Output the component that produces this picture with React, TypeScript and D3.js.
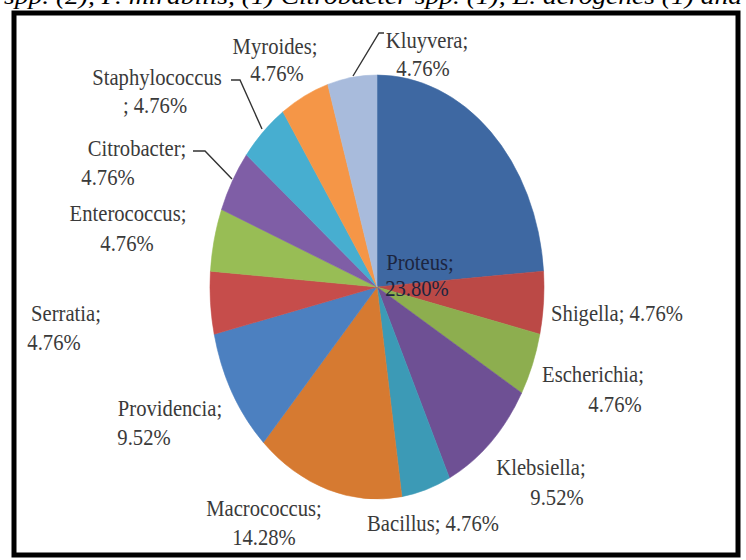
import React from "react";
import * as d3 from "d3";

// Share of isolates per genus (percent), clockwise from 12 o'clock
const categories = [
  "Proteus", "Shigella", "Escherichia", "Klebsiella", "Bacillus", "Macrococcus",
  "Providencia", "Serratia", "Enterococcus", "Citrobacter", "Staphylococcus",
  "Myroides", "Kluyvera",
];
const shares = [23.8, 4.76, 4.76, 9.52, 4.76, 14.28, 9.52, 4.76, 4.76, 4.76, 4.76, 4.76, 4.76];

const sliceColors = [
  "#3e68a2", "#bb4946", "#8dae4f", "#6e5094", "#3c9ab6", "#d67a31",
  "#4c80c0", "#c64d4b", "#98bd55", "#7f5ea6", "#47aed0", "#f59647", "#a8bbdc",
];

const caption = "spp. (2), P. mirabilis, (1) Citrobacter spp. (1), E. aerogenes (1) and";

// Label placement: "two" = name; / value, "one" = name; value, "semi" = name / ; value
type LabelPlace = { mode: "two" | "one" | "semi"; l1: [number, number]; l2?: [number, number]; color?: string };
const labelPlaces: LabelPlace[] = [
  { mode: "two", l1: [420, 262], l2: [417, 288], color: "#1c2540" },
  { mode: "one", l1: [617, 313] },
  { mode: "two", l1: [593, 374], l2: [615, 404] },
  { mode: "two", l1: [541, 467], l2: [557, 497] },
  { mode: "one", l1: [433, 523] },
  { mode: "two", l1: [264, 508], l2: [264, 537] },
  { mode: "two", l1: [170, 408], l2: [144, 437] },
  { mode: "two", l1: [66, 313], l2: [54, 342] },
  { mode: "two", l1: [128, 213], l2: [127, 243] },
  { mode: "two", l1: [137, 148], l2: [108, 177] },
  { mode: "semi", l1: [157, 77], l2: [155, 105] },
  { mode: "two", l1: [275, 46], l2: [277, 73] },
  { mode: "two", l1: [427, 40], l2: [423, 68] },
];

// Leader lines for the labels that sit away from their slices
const leaders: { name: string; pts: [number, number][] }[] = [
  { name: "Kluyvera", pts: [[384, 33], [379, 33], [353, 76]] },
  { name: "Staphylococcus", pts: [[231, 80], [240, 80], [262, 129]] },
  { name: "Citrobacter", pts: [[193, 151], [205, 151], [232, 179]] },
];

const W = 746;
const H = 560;
const cx = 377;
const cy = 287;
const rx = 167;
const ry = 212;

export default function App() {
  const data = categories.map((c, i) => ({ name: c, share: shares[i], color: sliceColors[i] }));
  const arcs = d3.pie<typeof data[number]>().sort(null).value((d) => d.share)(data);
  const arcGen = d3.arc<d3.PieArcDatum<typeof data[number]>>().innerRadius(0).outerRadius(rx);
  const line = d3.line();
  const fmt = (v: number) => `${v.toFixed(2)}%`;

  const textEl = (t: string, x: number, y: number, key: string, color: string) => (
    <text
      key={key}
      transform={`translate(${x},${y}) scale(0.86,1)`}
      textAnchor="middle"
      dominantBaseline="central"
      fontFamily="'Liberation Serif', serif"
      fontSize={24}
      fill={color}
    >
      {t}
    </text>
  );

  return (
    <svg width={W} height={H} style={{ position: "absolute", left: 0, top: 0, background: "#fff" }}>
      <text
        x={4}
        y={4}
        fontFamily="'Liberation Serif', serif"
        fontStyle="italic"
        fontSize={24}
        textLength={738}
        lengthAdjust="spacingAndGlyphs"
        fill="#000"
      >
        {caption}
      </text>
      <rect x={14} y={13} width={724} height={542} fill="#fff" stroke="#000" strokeWidth={5} />
      <g transform={`translate(${cx},${cy}) scale(1,${ry / rx})`}>
        {arcs.map((a, i) => (
          <path key={i} d={arcGen(a) ?? ""} fill={a.data.color} stroke={a.data.color} strokeWidth={0.5} />
        ))}
      </g>
      {leaders.map((l) => (
        <path key={l.name} d={line(l.pts) ?? ""} fill="none" stroke="#333" strokeWidth={1.4} />
      ))}
      {data.map((d, i) => {
        const p = labelPlaces[i];
        const col = p.color ?? "#3a3a3a";
        if (p.mode === "one") return textEl(`${d.name}; ${fmt(d.share)}`, p.l1[0], p.l1[1], d.name, col);
        if (p.mode === "semi")
          return (
            <g key={d.name}>
              {textEl(d.name, p.l1[0], p.l1[1], "a", col)}
              {textEl(`; ${fmt(d.share)}`, p.l2![0], p.l2![1], "b", col)}
            </g>
          );
        return (
          <g key={d.name}>
            {textEl(`${d.name};`, p.l1[0], p.l1[1], "a", col)}
            {textEl(fmt(d.share), p.l2![0], p.l2![1], "b", col)}
          </g>
        );
      })}
    </svg>
  );
}
